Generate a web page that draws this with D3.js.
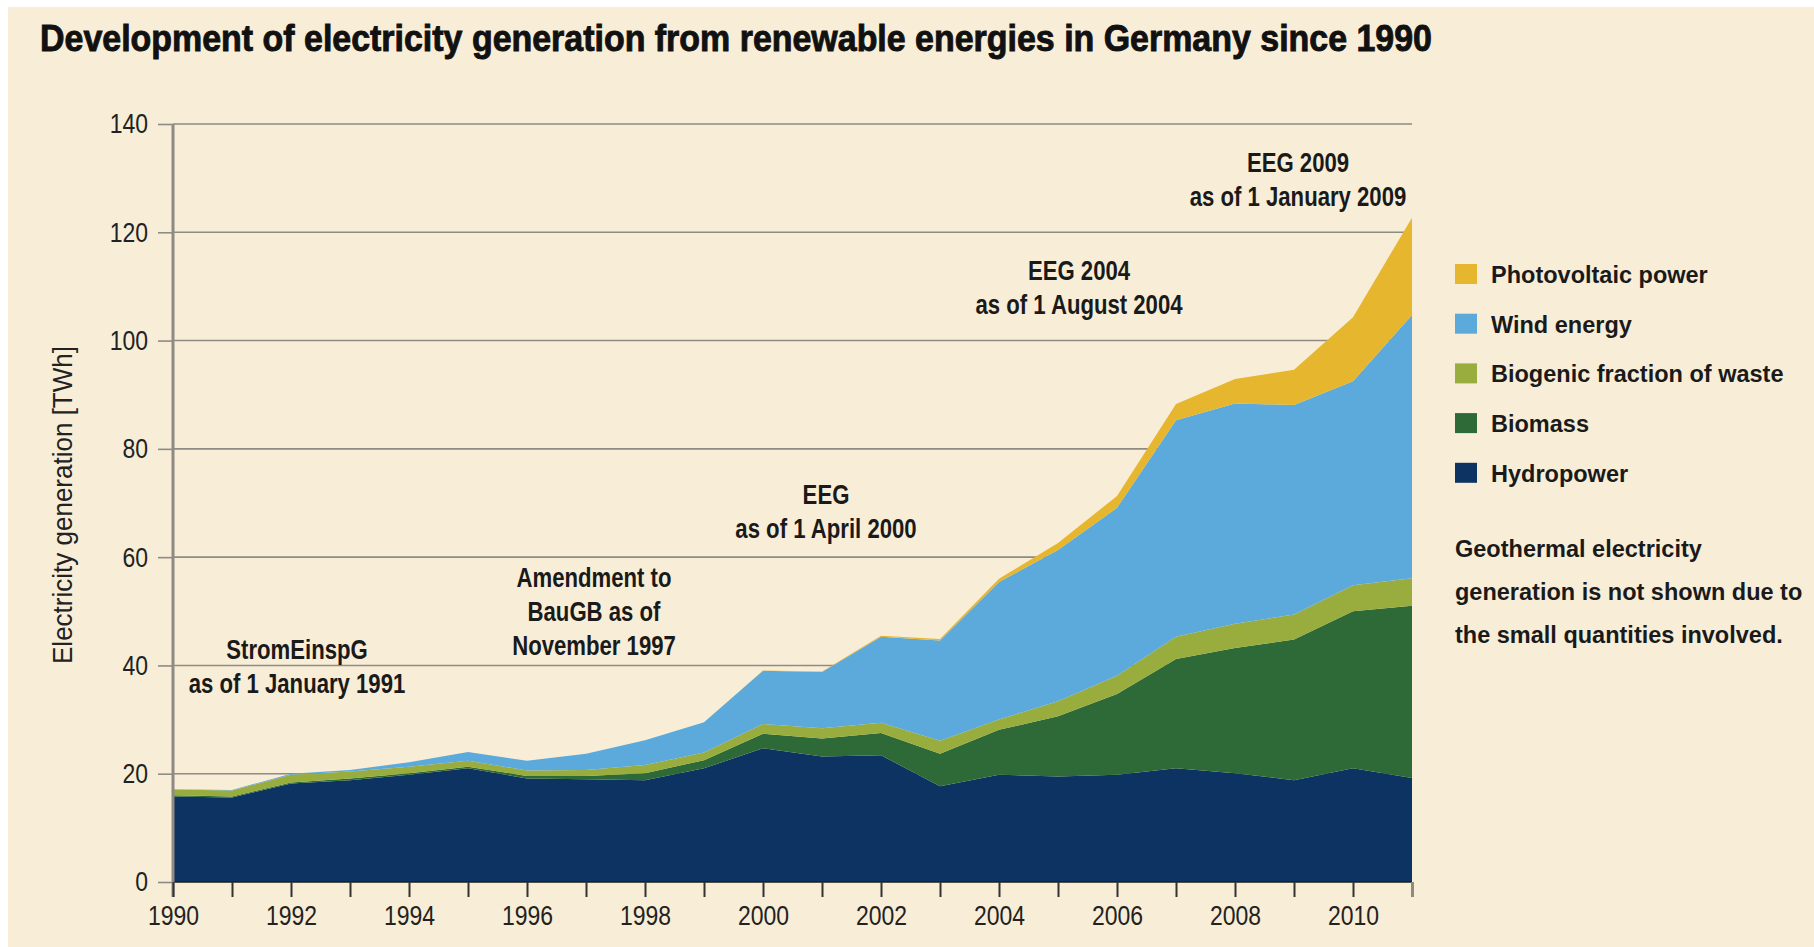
<!DOCTYPE html>
<html><head><meta charset="utf-8">
<script src="https://cdn.jsdelivr.net/npm/d3@7/dist/d3.min.js"></script>
<style>html,body{margin:0;padding:0;background:#fff;} svg{display:block;}</style>
</head><body>
<svg id="chart" width="1814" height="947"></svg>
<script>
// ---------- data ----------
const years = [1990,1991,1992,1993,1994,1995,1996,1997,1998,1999,2000,2001,2002,2003,2004,2005,2006,2007,2008,2009,2010,2011];
const hydropower    = [15.8,15.6,18.2,18.8,19.8,21.0,19.1,19.0,18.8,21.0,24.7,23.2,23.4,17.7,19.8,19.5,19.8,21.0,20.1,18.8,21.0,19.2];
const biomass       = [0.2,0.2,0.2,0.3,0.3,0.3,0.5,0.6,1.3,1.5,2.7,3.3,4.1,6.0,8.3,11.1,14.9,20.2,23.1,26.0,29.0,31.8];
const biogenicWaste = [1.1,1.1,1.4,1.3,1.2,1.1,1.0,1.1,1.5,1.4,1.8,1.9,1.9,2.4,1.9,2.8,3.4,4.1,4.5,4.6,4.8,5.1];
const windEnergy    = [0.05,0.1,0.2,0.3,0.8,1.6,1.8,3.0,4.6,5.6,9.8,10.4,15.9,18.5,25.4,27.9,31.0,40.0,40.7,38.7,37.7,48.6];
const photovoltaic  = [0,0,0,0,0,0,0,0,0,0,0.06,0.1,0.2,0.3,0.6,1.3,2.2,3.0,4.5,6.5,11.8,18.0];

const seriesKeys   = ["hydro","biomass","waste","wind","pv"];
const seriesNames  = ["Hydropower","Biomass","Biogenic fraction of waste","Wind energy","Photovoltaic power"];
const seriesColors = ["#0c3361","#2e6a37","#98ad3d","#5caadc","#e7b62f"];
const seriesValues = [hydropower, biomass, biogenicWaste, windEnergy, photovoltaic];

const yTicks = [0,20,40,60,80,100,120,140];
const xLabelYears = [1990,1992,1994,1996,1998,2000,2002,2004,2006,2008,2010];

const titleText = "Development of electricity generation from renewable energies in Germany since 1990";
const yAxisTitle = "Electricity generation [TWh]";
const noteLines = ["Geothermal electricity","generation is not shown due to","the small quantities involved."];
const annotationLines = [
  ["StromEinspG","as of 1 January 1991"],
  ["Amendment to","BauGB as of","November 1997"],
  ["EEG","as of 1 April 2000"],
  ["EEG 2004","as of 1 August 2004"],
  ["EEG 2009","as of 1 January 2009"]
];

// ---------- layout (pixels) ----------
const L = {x0:173, x1:1412, y0:882, y1:124};
const annotationPos = [ {x:297, y:659}, {x:594, y:587}, {x:826, y:504}, {x:1079, y:280}, {x:1298, y:172} ];
const lineGap = 34;
const FONT = "'Liberation Sans', Arial, Helvetica, sans-serif";

function condense(sel, f){
  sel.each(function(){
    const w = this.getComputedTextLength();
    d3.select(this).attr("textLength", w*f).attr("lengthAdjust","spacingAndGlyphs");
  });
}

const svg = d3.select("#chart");
svg.append("rect").attr("x",0).attr("y",0).attr("width",1814).attr("height",947).attr("fill","#ffffff");
svg.append("rect").attr("x",8).attr("y",7).attr("width",1806).attr("height",940).attr("fill","#f8eed8");

const x = d3.scaleLinear().domain([years[0], years[years.length-1]]).range([L.x0, L.x1]);
const y = d3.scaleLinear().domain([0,140]).range([L.y0, L.y1]);

// title
svg.append("text").attr("x",40).attr("y",51)
  .attr("font-family",FONT).attr("font-weight","bold").attr("font-size",36)
  .attr("fill","#111").attr("stroke","#111").attr("stroke-width",0.9)
  .attr("textLength",1392).attr("lengthAdjust","spacingAndGlyphs")
  .text(titleText);

// grid
const g = svg.append("g");
g.selectAll("line.grid").data(yTicks.filter(d=>d>0)).join("line")
  .attr("x1",L.x0).attr("x2",L.x1).attr("y1",d=>y(d)).attr("y2",d=>y(d))
  .attr("stroke","#8e8a84").attr("stroke-width",1.6);

// stacked areas
const table = years.map((yr,i)=>{ const o={year:yr}; seriesKeys.forEach((k,j)=>o[k]=seriesValues[j][i]); return o; });
const stack = d3.stack().keys(seriesKeys)(table);
const area = d3.area().x(d=>x(d.data.year)).y0(d=>y(d[0])).y1(d=>y(d[1]));
g.selectAll("path.layer").data(stack).join("path")
  .attr("d",area).attr("fill",(d,i)=>seriesColors[i]);

// baseline
g.append("line").attr("x1",L.x0).attr("x2",L.x1).attr("y1",y(0)).attr("y2",y(0))
  .attr("stroke","#1d1d1d").attr("stroke-width",1.5);

// y axis
const yAxis = d3.axisLeft(y).tickValues(yTicks).tickSize(15).tickPadding(10).tickFormat(d3.format("d"));
const ya = svg.append("g").attr("transform",`translate(${L.x0},0)`).call(yAxis);
ya.select(".domain").remove();
ya.selectAll(".tick line").attr("stroke","#8e8a84").attr("stroke-width",1.6);
ya.selectAll(".tick text").attr("font-family",FONT).attr("font-size",28).attr("fill","#222").call(condense,0.82);
svg.append("line").attr("x1",L.x0).attr("x2",L.x0).attr("y1",L.y1).attr("y2",L.y0+15)
  .attr("stroke","#8e8a84").attr("stroke-width",3);

// x axis
const xAxis = d3.axisBottom(x).tickValues(years).tickSize(15).tickPadding(8)
  .tickFormat(d=> xLabelYears.includes(d) ? String(d) : "");
const xa = svg.append("g").attr("transform",`translate(0,${L.y0})`).call(xAxis);
xa.select(".domain").remove();
xa.selectAll(".tick line").attr("stroke",(d,i)=> i===years.length-1 ? "#8e8a84" : "#333").attr("stroke-width",(d,i)=> i===years.length-1 ? 3 : 2);
xa.selectAll(".tick text").attr("font-family",FONT).attr("font-size",28).attr("fill","#222")
  .filter(function(){return this.textContent.length>0;}).call(condense,0.82);

// y axis title
svg.append("text").attr("transform",`translate(72,505) rotate(-90)`).attr("text-anchor","middle")
  .attr("font-family",FONT).attr("font-size",27).attr("fill","#222")
  .attr("textLength",318).attr("lengthAdjust","spacingAndGlyphs")
  .text(yAxisTitle);

// annotations
annotationLines.forEach((lines,i)=>{
  lines.forEach((ln,k)=>{
    svg.append("text").attr("text-anchor","middle")
      .attr("x",annotationPos[i].x).attr("y",annotationPos[i].y + k*lineGap)
      .attr("font-family",FONT).attr("font-weight","bold").attr("font-size",27).attr("fill","#1a1a1a")
      .text(ln).call(condense,0.82);
  });
});

// legend
const legendOrder = [4,3,2,1,0];
const lg = svg.append("g");
legendOrder.forEach((si,r)=>{
  const cy = 274 + r*49.7;
  lg.append("rect").attr("x",1455).attr("y",cy-10).attr("width",22).attr("height",20).attr("fill",seriesColors[si]);
  lg.append("text").attr("x",1491).attr("y",cy+9)
    .attr("font-family",FONT).attr("font-weight","bold").attr("font-size",23.5).attr("fill","#1a1a1a")
    .text(seriesNames[si]);
});
noteLines.forEach((ln,k)=>{
  lg.append("text").attr("x",1455).attr("y",557 + k*43)
    .attr("font-family",FONT).attr("font-weight","bold").attr("font-size",23.5).attr("fill","#1a1a1a")
    .text(ln);
});
</script>
</body></html>
